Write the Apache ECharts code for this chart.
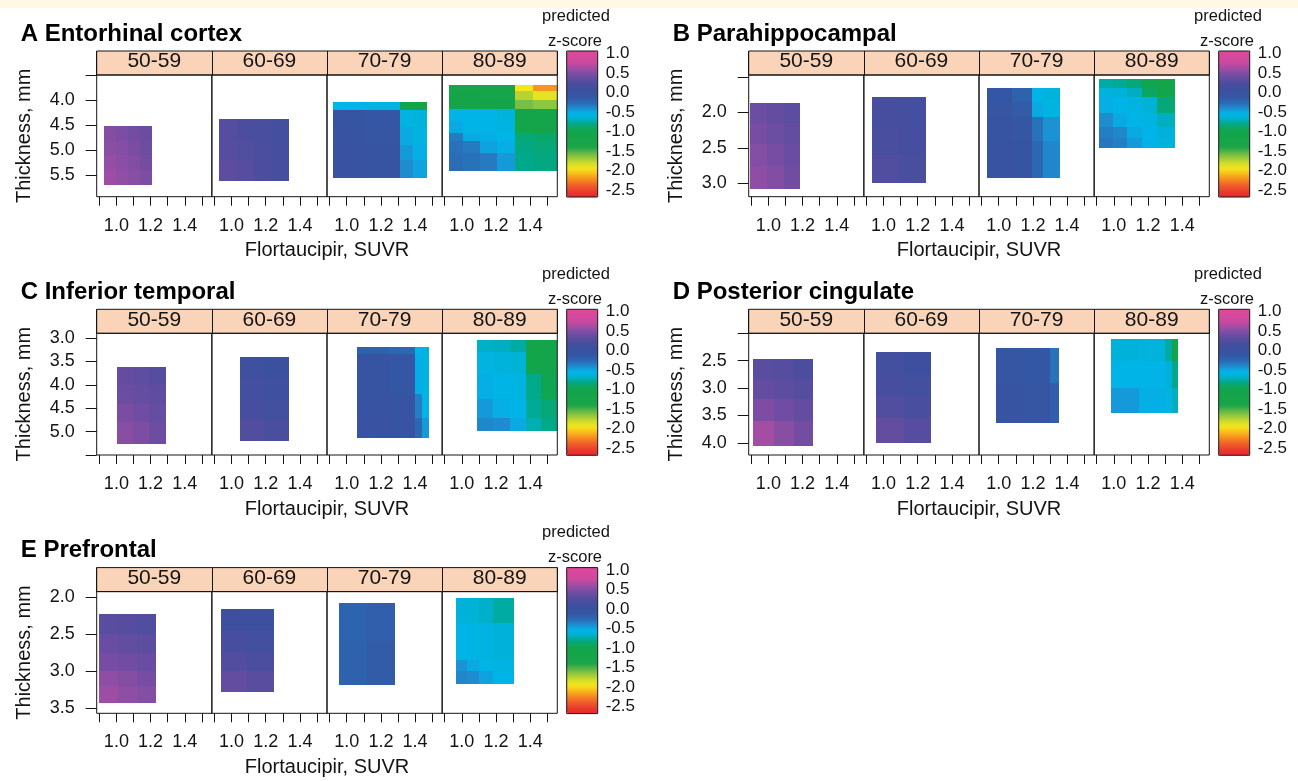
<!DOCTYPE html>
<html><head><meta charset="utf-8">
<script src="https://cdn.jsdelivr.net/npm/echarts@6/dist/echarts.min.js"></script>
<style>html,body{margin:0;padding:0;background:#fff}#chart{width:1298px;height:781px}</style>
</head><body><div id="chart"></div>
<script>
// ---------------- data ----------------
const ageGroups = ['50-59', '60-69', '70-79', '80-89'];
const regionTitles = ['A Entorhinal cortex', 'B Parahippocampal', 'C Inferior temporal', 'D Posterior cingulate', 'E Prefrontal'];
const xAxisTitle = 'Flortaucipir, SUVR';
const yAxisTitle = 'Thickness, mm';
const legendTitle1 = 'predicted';
const legendTitle2 = 'z-score';
const suvrRange = [0.885, 1.558];
const suvrTicks = [0.9, 1.0, 1.1, 1.2, 1.3, 1.4, 1.5];
const suvrLabels = [1.0, 1.2, 1.4];
const zRange = [-2.68, 1.06];
const zTicks = [1.0, 0.5, 0.0, -0.5, -1.0, -1.5, -2.0, -2.5];
const thicknessRange = [[3.5, 5.94], [1.47, 3.19], [2.9, 5.5], [2.0, 4.22], [1.92, 3.57]];
const thicknessTicks = [[3.5, 4.0, 4.5, 5.0, 5.5], [1.5, 2.0, 2.5, 3.0], [3.0, 3.5, 4.0, 4.5, 5.0, 5.5], [2.0, 2.5, 3.0, 3.5, 4.0], [2.0, 2.5, 3.0, 3.5]];
const thicknessLabels = [[4.0, 4.5, 5.0, 5.5], [2.0, 2.5, 3.0], [3.0, 3.5, 4.0, 4.5, 5.0], [2.5, 3.0, 3.5, 4.0], [2.0, 2.5, 3.0, 3.5]];

// per region and age group: SUVR cell edges, thickness cell edges, predicted z (rows = thickness bands)
const entorhinalSuvr = [
  [0.928, 0.999, 1.07, 1.14, 1.21],
  [0.925, 1.03, 1.13, 1.23, 1.337],
  [0.922, 1.10, 1.31, 1.39, 1.471],
  [0.925, 1.008, 1.106, 1.204, 1.311, 1.418, 1.557]
];
const entorhinalThick = [
  [4.53, 4.82, 5.11, 5.40, 5.70],
  [4.38, 4.8, 5.2, 5.63],
  [4.05, 4.20, 4.55, 4.90, 5.20, 5.56],
  [3.70, 3.83, 4.00, 4.19, 4.43, 4.67, 4.83, 5.07, 5.42]
];
const entorhinalZ = [
  [[0.5, 0.47, 0.43, 0.38], [0.53, 0.5, 0.46, 0.41], [0.57, 0.53, 0.49, 0.44], [0.6, 0.56, 0.52, 0.47]],
  [[0.27, 0.23, 0.19, 0.14], [0.29, 0.25, 0.21, 0.16], [0.32, 0.28, 0.23, 0.18]],
  [[-0.55, -0.58, -1.05, -1.1], [-0.05, -0.1, -0.58, -0.6], [-0.02, -0.08, -0.5, -0.58], [0.0, -0.05, -0.45, -0.52], [0.0, -0.05, -0.4, -0.48]],
  [[-1.2, -1.2, -1.2, -1.25, -1.95, -2.2], [-1.15, -1.15, -1.2, -1.2, -1.75, -1.9], [-1.1, -1.1, -1.15, -1.15, -1.6, -1.65],
   [-0.55, -0.55, -0.55, -0.6, -1.1, -1.15], [-0.5, -0.55, -0.55, -0.58, -1.05, -1.1], [-0.33, -0.5, -0.52, -0.55, -0.85, -0.88],
   [-0.3, -0.33, -0.48, -0.52, -0.82, -0.85], [-0.28, -0.3, -0.33, -0.45, -0.8, -0.82]]
];

const parahippSuvr = [
  [0.895, 0.99, 1.09, 1.185],
  [0.934, 1.09, 1.251],
  [0.932, 1.08, 1.197, 1.259, 1.357],
  [0.913, 0.997, 1.075, 1.163, 1.251, 1.358]
];
const parahippThick = [
  [1.86, 2.15, 2.45, 2.75, 3.08],
  [1.777, 2.2, 2.6, 3.0],
  [1.658, 1.85, 2.07, 2.4, 2.92],
  [1.531, 1.658, 1.777, 2.012, 2.201, 2.365, 2.507]
];
const parahippZ = [
  [[0.4, 0.36, 0.32], [0.45, 0.4, 0.35], [0.5, 0.45, 0.39], [0.55, 0.49, 0.42]],
  [[0.17, 0.14], [0.2, 0.17], [0.25, 0.2]],
  [[-0.1, -0.2, -0.55, -0.6], [-0.08, -0.15, -0.5, -0.58], [-0.05, -0.08, -0.3, -0.42], [-0.02, -0.05, -0.25, -0.38]],
  [[-0.75, -0.78, -0.85, -1.0, -1.1], [-0.6, -0.62, -0.7, -0.9, -1.05], [-0.52, -0.55, -0.58, -0.65, -0.85],
   [-0.4, -0.5, -0.55, -0.58, -0.7], [-0.35, -0.38, -0.5, -0.55, -0.62], [-0.32, -0.35, -0.45, -0.53, -0.6]]
];

const infTempSuvr = [
  [1.002, 1.097, 1.192, 1.288],
  [1.052, 1.19, 1.336],
  [1.06, 1.25, 1.40, 1.44, 1.484],
  [1.086, 1.18, 1.28, 1.377, 1.46, 1.557]
];
const infTempThick = [
  [3.61, 4.0, 4.4, 4.8, 5.26],
  [3.40, 3.85, 4.3, 4.75, 5.21],
  [3.185, 3.35, 4.2, 4.7, 5.13],
  [3.04, 3.3, 3.77, 4.3, 4.7, 4.99]
];
const infTempZ = [
  [[0.36, 0.33, 0.29], [0.4, 0.37, 0.33], [0.46, 0.42, 0.37], [0.52, 0.47, 0.41]],
  [[0.09, 0.05], [0.13, 0.09], [0.18, 0.13], [0.25, 0.19]],
  [[-0.2, -0.25, -0.55, -0.6], [-0.05, -0.1, -0.52, -0.58], [-0.02, -0.06, -0.35, -0.55], [0.0, -0.03, -0.25, -0.45]],
  [[-0.68, -0.7, -0.75, -1.1, -1.15], [-0.58, -0.6, -0.65, -1.05, -1.1], [-0.52, -0.55, -0.58, -0.8, -1.0],
   [-0.45, -0.52, -0.55, -0.78, -0.85], [-0.38, -0.4, -0.5, -0.72, -0.8]]
];

const postCingSuvr = [
  [0.91, 1.03, 1.15, 1.263],
  [0.957, 1.12, 1.276],
  [0.985, 1.15, 1.30, 1.35],
  [0.985, 1.15, 1.30, 1.34, 1.373]
];
const postCingThick = [
  [2.47, 2.85, 3.2, 3.6, 4.05],
  [2.35, 2.75, 3.15, 3.55, 4.0],
  [2.26, 2.9, 3.63],
  [2.1, 2.5, 3.0, 3.45]
];
const postCingZ = [
  [[0.3, 0.27, 0.22], [0.36, 0.32, 0.27], [0.48, 0.42, 0.35], [0.62, 0.52, 0.43]],
  [[0.13, 0.1], [0.17, 0.13], [0.25, 0.2], [0.35, 0.28]],
  [[-0.09, -0.12, -0.3], [-0.06, -0.09, -0.18]],
  [[-0.62, -0.6, -0.75, -1.05], [-0.55, -0.55, -0.62, -0.8], [-0.45, -0.52, -0.58, -0.7]]
];

const prefrontalSuvr = [
  [0.897, 1.01, 1.12, 1.23],
  [0.936, 1.09, 1.246],
  [0.953, 1.12, 1.285],
  [0.965, 1.03, 1.10, 1.18, 1.305]
];
const prefrontalThick = [
  [2.225, 2.5, 2.75, 3.0, 3.2, 3.43],
  [2.16, 2.45, 2.75, 3.0, 3.28],
  [2.08, 2.6, 3.19],
  [2.01, 2.35, 2.85, 3.0, 3.17]
];
const prefrontalZ = [
  [[0.3, 0.28, 0.25], [0.38, 0.35, 0.32], [0.45, 0.42, 0.38], [0.55, 0.5, 0.45], [0.6, 0.55, 0.5]],
  [[0.1, 0.08], [0.17, 0.13], [0.26, 0.21], [0.35, 0.3]],
  [[-0.22, -0.18], [-0.2, -0.15]],
  [[-0.62, -0.65, -0.68, -0.75], [-0.55, -0.56, -0.58, -0.62], [-0.42, -0.5, -0.55, -0.58], [-0.38, -0.4, -0.48, -0.55]]
];

// colour scale stops (value, colour)
const colourStops = [
  [-2.68, '#E8262E'], [-2.55, '#E93A2D'], [-2.38, '#F0602A'], [-2.2, '#F7961E'], [-2.05, '#F8C81B'],
  [-1.95, '#F3E51C'], [-1.82, '#D2DC2A'], [-1.65, '#8DC63F'], [-1.52, '#55B447'], [-1.4, '#1BA548'],
  [-1.05, '#12A54B'], [-0.92, '#0EA65A'], [-0.79, '#00A98F'], [-0.67, '#00B1CF'], [-0.54, '#00B4E9'],
  [-0.41, '#1D8FD2'], [-0.28, '#2A6CB5'], [-0.11, '#3556A4'], [0.06, '#3B509F'], [0.23, '#4D4D9F'],
  [0.40, '#6B4DA2'], [0.57, '#944EA5'], [0.74, '#C84A9F'], [1.06, '#E2479B']
];

// ---------------- layout ----------------
const FONT = 'Liberation Sans, Arial, Helvetica, sans-serif';
const INK = '#141414';
const L = { left: 96.7, right: 557.3, stripTop: 51, stripBottom: 75, plotBottom: 196.7,
            cbLeft: 566.7, cbWidth: 31, cbTop: 51, cbBottom: 197 };
const OFF = [[0, 0], [652, 0], [0, 258.3], [652, 258.3], [0, 516.6]];
const subW = (L.right - L.left) / 4;

const regionSuvr = [entorhinalSuvr, parahippSuvr, infTempSuvr, postCingSuvr, prefrontalSuvr];
const regionThick = [entorhinalThick, parahippThick, infTempThick, postCingThick, prefrontalThick];
const regionZ = [entorhinalZ, parahippZ, infTempZ, postCingZ, prefrontalZ];

function hex2rgb(h) { return [1, 3, 5].map(i => parseInt(h.slice(i, i + 2), 16)); }
function colourAt(v) {
  if (v <= colourStops[0][0]) return colourStops[0][1];
  for (let i = 1; i < colourStops.length; i++) {
    if (v <= colourStops[i][0]) {
      const [v0, c0] = colourStops[i - 1], [v1, c1] = colourStops[i];
      const t = (v - v0) / (v1 - v0);
      const a = hex2rgb(c0), b = hex2rgb(c1);
      return 'rgb(' + a.map((x, k) => Math.round(x + (b[k] - x) * t)).join(',') + ')';
    }
  }
  return colourStops[colourStops.length - 1][1];
}
const visualColours = [];
for (let k = 0; k <= 200; k++) visualColours.push(colourAt(zRange[0] + (zRange[1] - zRange[0]) * k / 200));

function cells(xe, ye, z) {
  const out = [];
  for (let r = 0; r < z.length; r++)
    for (let c = 0; c < z[r].length; c++)
      out.push([xe[c], xe[c + 1], ye[r], ye[r + 1], z[r][c]]);
  return out;
}

function renderCell(params, api) {
  const p0 = api.coord([api.value(0), api.value(2)]);
  const p1 = api.coord([api.value(1), api.value(3)]);
  const x0 = Math.round(Math.min(p0[0], p1[0])), x1 = Math.round(Math.max(p0[0], p1[0]));
  const y0 = Math.round(Math.min(p0[1], p1[1])), y1 = Math.round(Math.max(p0[1], p1[1]));
  return {
    type: 'rect',
    shape: { x: x0, y: y0, width: x1 - x0, height: y1 - y0 },
    style: { fill: api.visual('color') }
  };
}

const fmt1 = v => Number(v).toFixed(1);
const grids = [], xAxes = [], yAxes = [], series = [], visualMaps = [], graphics = [];

graphics.push({ type: 'rect', shape: { x: 0, y: 0, width: 1298, height: 8 }, style: { fill: '#FFF8E4' }, silent: true });

for (let p = 0; p < 5; p++) {
  const [ox, oy] = OFF[p];
  for (let a = 0; a < 4; a++) {
    const gi = grids.length;
    grids.push({ left: L.left + ox + a * subW, top: L.stripBottom + oy, width: subW, height: L.plotBottom - L.stripBottom,
                 show: true, borderColor: INK, borderWidth: 1, backgroundColor: 'transparent', z: 3 });
    xAxes.push({ gridIndex: gi, type: 'value', min: suvrRange[0], max: suvrRange[1],
      axisLine: { show: false }, splitLine: { show: false },
      axisTick: { show: true, customValues: suvrTicks, length: 9, lineStyle: { color: INK, width: 1 } },
      axisLabel: { customValues: suvrLabels, formatter: fmt1, margin: 20, fontSize: 18, color: INK, fontFamily: FONT } });
    const first = a === 0;
    yAxes.push({ gridIndex: gi, type: 'value', inverse: true, min: thicknessRange[p][0], max: thicknessRange[p][1],
      axisLine: { show: false }, splitLine: { show: false },
      axisTick: { show: first, customValues: thicknessTicks[p], length: 11, lineStyle: { color: INK, width: 1 } },
      axisLabel: { show: first, customValues: thicknessLabels[p], formatter: fmt1, margin: 22, fontSize: 18, color: INK, fontFamily: FONT } });
    series.push({ type: 'custom', name: regionTitles[p] + ' ' + ageGroups[a], xAxisIndex: gi, yAxisIndex: gi,
      renderItem: renderCell, clip: true, silent: true,
      data: cells(regionSuvr[p][a], regionThick[p][a], regionZ[p][a]) });
  }
}
// strips with age groups
for (let p = 0; p < 5; p++) {
  const [ox, oy] = OFF[p];
  const gi = grids.length;
  grids.push({ left: L.left + ox, top: L.stripTop + oy, width: L.right - L.left, height: L.stripBottom - L.stripTop,
               show: true, borderColor: INK, borderWidth: 1, backgroundColor: '#FAD4B8' });
  xAxes.push({ gridIndex: gi, type: 'category', data: ageGroups, position: 'bottom',
    axisLine: { show: false }, axisTick: { show: false },
    splitLine: { show: true, interval: 0, lineStyle: { color: INK, width: 1 } },
    axisLabel: { inside: true, interval: 0, margin: 3, fontSize: 21, color: INK, fontFamily: FONT } });
  yAxes.push({ gridIndex: gi, type: 'value', show: false });
}
// colour keys
for (let p = 0; p < 5; p++) {
  const [ox, oy] = OFF[p];
  const gi = grids.length;
  grids.push({ left: L.cbLeft + ox, top: L.cbTop + oy, width: L.cbWidth, height: L.cbBottom - L.cbTop,
               show: true, borderColor: INK, borderWidth: 1, backgroundColor: 'transparent', z: 6 });
  xAxes.push({ gridIndex: gi, type: 'value', show: false });
  yAxes.push({ gridIndex: gi, type: 'value', position: 'right', min: zRange[0], max: zRange[1],
    axisLine: { show: false }, splitLine: { show: false },
    axisTick: { show: true, customValues: zTicks, length: 6, lineStyle: { color: INK, width: 1 } },
    axisLabel: { customValues: zTicks, formatter: fmt1, margin: 8, fontSize: 17, color: INK, fontFamily: FONT } });
  visualMaps.push({ type: 'continuous', min: zRange[0], max: zRange[1], dimension: 4,
    seriesIndex: [4 * p, 4 * p + 1, 4 * p + 2, 4 * p + 3], orient: 'vertical', calculable: false, hoverLink: false,
    left: L.cbLeft + ox, top: L.cbTop + oy, itemWidth: L.cbWidth, itemHeight: L.cbBottom - L.cbTop, padding: 0,
    text: null, showLabel: false, inRange: { color: visualColours } });
  graphics.push({ type: 'text', x: 576 + ox, y: 16.2 + oy, silent: true,
    style: { text: legendTitle1, fontSize: 16.5, fontFamily: FONT, fill: INK, align: 'center', verticalAlign: 'middle', textAlign: 'center', textVerticalAlign: 'middle' } });
  graphics.push({ type: 'text', x: 575 + ox, y: 41 + oy, silent: true,
    style: { text: legendTitle2, fontSize: 16.5, fontFamily: FONT, fill: INK, align: 'center', verticalAlign: 'middle', textAlign: 'center', textVerticalAlign: 'middle' } });
  graphics.push({ type: 'text', x: 20.7 + ox, y: 34 + oy, silent: true,
    style: { text: regionTitles[p], fontSize: 24, fontWeight: 'bold', fontFamily: FONT, fill: '#000', align: 'left', verticalAlign: 'middle', textAlign: 'left', textVerticalAlign: 'middle' } });
}
// frame grids for axis titles
for (let p = 0; p < 5; p++) {
  const [ox, oy] = OFF[p];
  const gi = grids.length;
  grids.push({ left: L.left + ox, top: L.stripBottom + oy, width: L.right - L.left, height: L.plotBottom - L.stripBottom, show: false });
  xAxes.push({ gridIndex: gi, type: 'value', min: 0, max: 1, axisLine: { show: false }, axisTick: { show: false },
    axisLabel: { show: false }, splitLine: { show: false },
    name: xAxisTitle, nameLocation: 'middle', nameGap: 44, nameTextStyle: { fontSize: 20, color: INK, fontFamily: FONT } });
  yAxes.push({ gridIndex: gi, type: 'value', min: 0, max: 1, axisLine: { show: false }, axisTick: { show: false },
    axisLabel: { show: false }, splitLine: { show: false },
    name: yAxisTitle, nameLocation: 'middle', nameGap: 62, nameTextStyle: { fontSize: 20, color: INK, fontFamily: FONT } });
}

const chart = echarts.init(document.getElementById('chart'), null, { renderer: 'canvas' });
chart.setOption({
  backgroundColor: '#ffffff',
  animation: false,
  textStyle: { fontFamily: FONT },
  grid: grids, xAxis: xAxes, yAxis: yAxes, visualMap: visualMaps, series: series, graphic: graphics
});
</script>
</body></html>
